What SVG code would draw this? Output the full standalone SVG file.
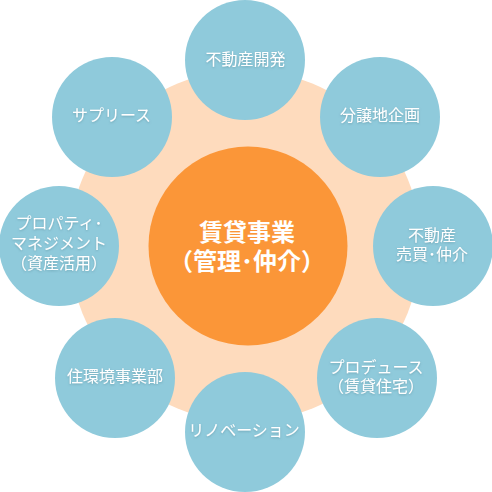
<svg xmlns="http://www.w3.org/2000/svg" width="492" height="492" viewBox="0 0 492 492">
<style>
.bg{fill:#fedbbd}
.hub{fill:#fb9638}
.node{fill:#8fcadb}
.t{font-family:"Liberation Sans","Noto Sans CJK JP","Noto Sans CJK SC",sans-serif;font-size:16px;fill:#ffffff;text-anchor:middle;dominant-baseline:central}
.c{font-family:"Liberation Sans","Noto Sans CJK JP","Noto Sans CJK SC",sans-serif;font-size:24px;font-weight:bold;fill:#ffffff;text-anchor:middle;dominant-baseline:central}
</style>
<defs>
<filter id="sh" x="-10%" y="-20%" width="120%" height="150%"><feDropShadow dx="0" dy="1" stdDeviation="1" flood-color="#5a8f9e" flood-opacity="0.6"/></filter>
</defs>
<circle class="bg" cx="245" cy="246" r="176"/>
<g id="connectors"></g>
<g id="center"><circle class="hub" cx="248" cy="246" r="99.5"/><text class="c" x="247" y="232">賃貸事業</text><text class="c" x="247" y="261">（管理･仲介）</text></g>
<g id="n1"><circle class="node" cx="245" cy="60" r="60"/><text class="t" x="245.5" y="59.5" filter="url(#sh)">不動産開発</text></g>
<g id="n2"><circle class="node" cx="380" cy="117" r="60"/><text class="t" x="380" y="115.5" filter="url(#sh)">分譲地企画</text></g>
<g id="n3"><circle class="node" cx="433" cy="246" r="60"/><text class="t" x="432" y="235.5" filter="url(#sh)">不動産</text><text class="t" x="432" y="254.5" filter="url(#sh)">売買･仲介</text></g>
<g id="n4"><circle class="node" cx="377" cy="378" r="60"/><text class="t" x="376" y="367.5" filter="url(#sh)">プロデュース</text><text class="t" x="376" y="386.5" filter="url(#sh)">（賃貸住宅）</text></g>
<g id="n5"><circle class="node" cx="245" cy="432" r="60"/><text class="t" x="244" y="430.5" filter="url(#sh)">リノベーション</text></g>
<g id="n6"><circle class="node" cx="115" cy="378" r="60"/><text class="t" x="115" y="376.5" filter="url(#sh)">住環境事業部</text></g>
<g id="n7"><circle class="node" cx="59" cy="246" r="60"/><text class="t" x="59" y="223.5" filter="url(#sh)">プロパティ･</text><text class="t" x="59" y="243.5" filter="url(#sh)">マネジメント</text><text class="t" x="59" y="263.5" filter="url(#sh)">（資産活用）</text></g>
<g id="n8"><circle class="node" cx="112" cy="117" r="60"/><text class="t" x="111.5" y="115.5" filter="url(#sh)">サプリース</text></g>
</svg>
